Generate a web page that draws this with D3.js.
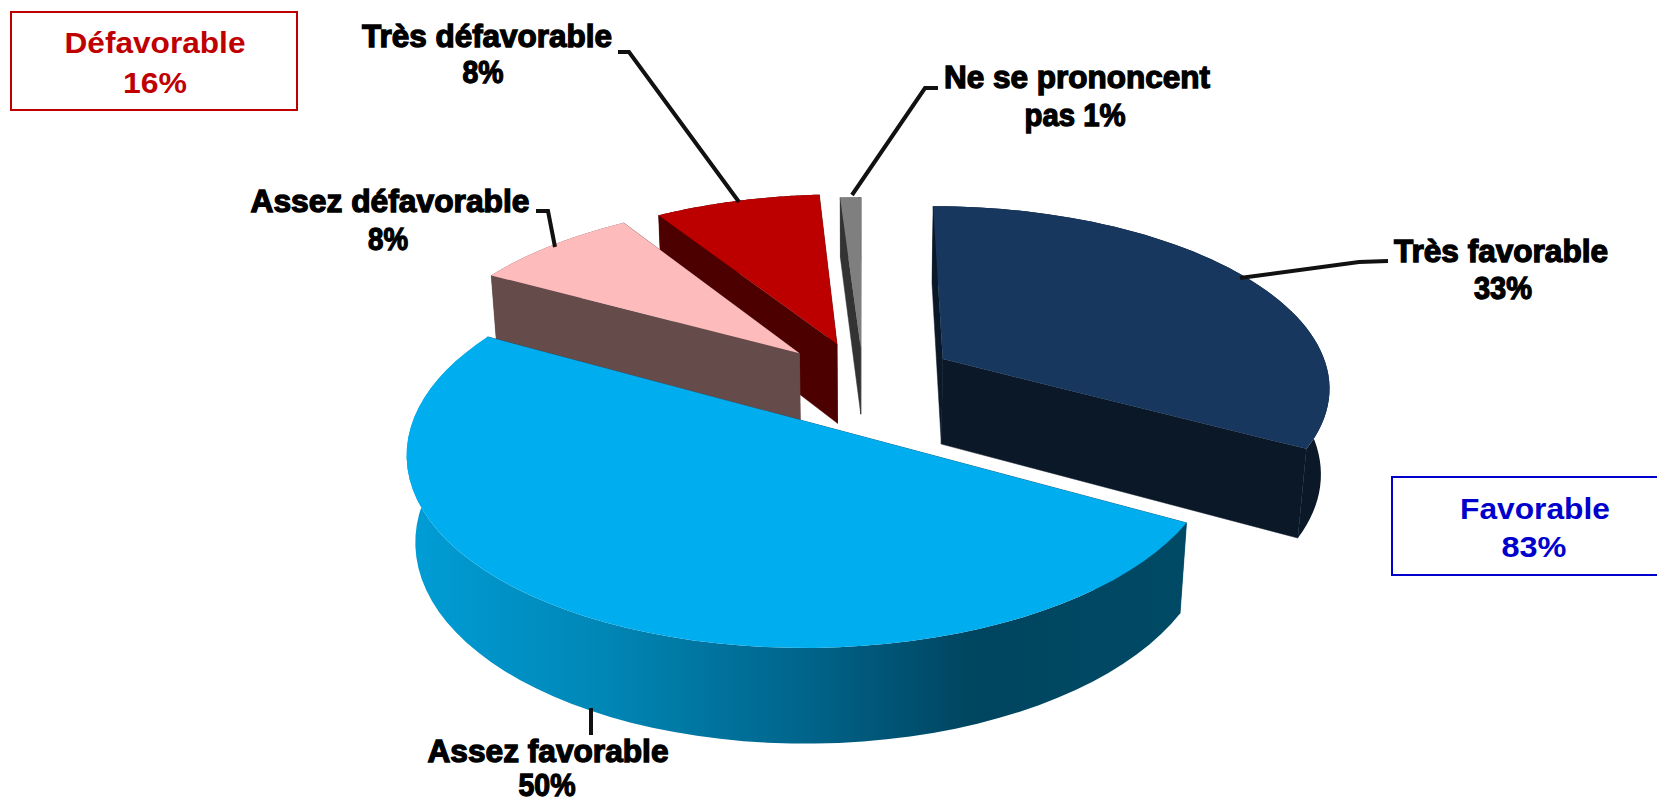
<!DOCTYPE html>
<html><head><meta charset="utf-8">
<script src="https://cdn.jsdelivr.net/npm/d3@7"></script>
<style>html,body{margin:0;padding:0;background:#fff;overflow:hidden}svg{display:block}
text{font-family:"Liberation Sans",Arial,sans-serif;font-weight:700}</style>
</head><body><svg id="c" width="1657" height="803"></svg>
<script>
const categories=["Très favorable","Assez favorable","Assez défavorable","Très défavorable","Ne se prononcent pas"];
const values=[33,50,8,8,1];
const topColors=["#17375E","#00AEEF","#FEBBBB","#BC0000","#7F7F7F"];
const wallColors=["#0A1828","#00AEEF","#664B4B","#4D0000","#333333"];
const explode=[.243,.26,.23,.223,.19];
const heights=[.255,.25,.2,.24,.2];
const drawOrder=[4,3,2,0,1];

// camera
const X0=863,Y0=381,A=388,a=.14,S=.464,C=Math.sqrt(1-S*S),D=C/a,F=A*D;
function proj(x,y,z){const d=D+y*C-z*S;return [X0+F*x/d,Y0-F*(y*S+z*C)/d];}

const arcs=d3.pie().sort(null).value(d=>d).startAngle(0).endAngle(2*Math.PI)(values);
const svg=d3.select("#c");
const line=d3.line();
const defs=svg.append("defs");
const grad=defs.append("linearGradient").attr("id","blueWall").attr("gradientUnits","userSpaceOnUse")
  .attr("x1",410).attr("x2",1190).attr("y1",0).attr("y2",0);
[[0,"#009DD6"],[.25,"#0086B5"],[.5,"#00658C"],[.72,"#004560"],[1,"#004A66"]].forEach(s=>grad.append("stop").attr("offset",s[0]).attr("stop-color",s[1]));

drawOrder.forEach(i=>{
  const s=arcs[i],m=(s.startAngle+s.endAngle)/2,e=explode[i],H=heights[i];
  const ox=e*Math.sin(m),oy=e*Math.cos(m);
  const pt=(r,t,z)=>proj(ox+r*Math.sin(t),oy+r*Math.cos(t),z);
  const ts=d3.range(0,61).map(k=>s.startAngle+(s.endAngle-s.startAngle)*k/60);
  const g=svg.append("g");
  // radial walls, the farther one first
  const walls=[s.startAngle,s.endAngle].sort((p,q)=>Math.cos(q)-Math.cos(p));
  walls.forEach(t=>g.append("path").attr("d",line([pt(0,t,0),pt(1,t,0),pt(1,t,-H),pt(0,t,-H)])+"Z")
    .attr("fill",i===1?"#004560":wallColors[i]).attr("stroke",i===1?"#004560":wallColors[i]).attr("stroke-width",.5));
  // outer wall
  const outer=ts.map(t=>pt(1,t,0)).concat(ts.slice().reverse().map(t=>pt(1,t,-H)));
  g.append("path").attr("d",line(outer)+"Z").attr("fill",i===1?"url(#blueWall)":wallColors[i]);
  // top face
  const top=[pt(0,s.startAngle,0)].concat(ts.map(t=>pt(1,t,0)));
  g.append("path").attr("d",line(top)+"Z").attr("fill",topColors[i]);
});

// leaders
const leaders=[
 [[1388,261],[1359,262],[1240,278]],
 [[591,708],[591,735]],
 [[536,211],[548,211],[555,247]],
 [[618,52],[629,52],[739,202]],
 [[938,88],[925,88],[852,195]]
];
svg.append("g").selectAll("path").data(leaders).join("path")
  .attr("d",d=>line(d)).attr("fill","none").attr("stroke","#111").attr("stroke-width",4);

// data labels
const labels=[
 {t:categories[0],x:1501,y:262,w:214},{t:values[0]+"%",x:1503,y:299,w:58},
 {t:categories[1],x:548,y:762,w:241},{t:values[1]+"%",x:547,y:796,w:57},
 {t:categories[2],x:390,y:212,w:279},{t:values[2]+"%",x:388,y:250,w:40},
 {t:categories[3],x:487,y:47,w:250},{t:values[3]+"%",x:483,y:83,w:41},
 {t:"Ne se prononcent",x:1077,y:88,w:266},{t:"pas "+values[4]+"%",x:1075,y:126,w:101}
];
svg.append("g").selectAll("text").data(labels).join("text")
  .attr("x",d=>d.x).attr("y",d=>d.y).attr("text-anchor","middle")
  .attr("font-size",31).attr("fill","#000").attr("stroke","#000").attr("stroke-width",1.3)
  .attr("textLength",d=>d.w).attr("lengthAdjust","spacingAndGlyphs").text(d=>d.t);

// summary boxes
const boxes=[
 {x:11,y:12,w:286,h:98,c:"#C00000",a:"Défavorable",b:"16%",ax:155,ay:53,by:93,bx:155,aw:181,bw:64},
 {x:1392,y:477,w:270,h:98,c:"#0000CC",a:"Favorable",b:"83%",ax:1535,ay:519,by:557,bx:1534,aw:150,bw:65}
];
const bg=svg.append("g").selectAll("g").data(boxes).join("g");
bg.append("rect").attr("x",d=>d.x).attr("y",d=>d.y).attr("width",d=>d.w).attr("height",d=>d.h)
  .attr("fill","#fff").attr("stroke",d=>d.c).attr("stroke-width",2);
bg.append("text").attr("x",d=>d.ax).attr("y",d=>d.ay).attr("text-anchor","middle").attr("font-size",30).attr("fill",d=>d.c)
  .attr("textLength",d=>d.aw).attr("lengthAdjust","spacingAndGlyphs").text(d=>d.a);
bg.append("text").attr("x",d=>d.bx).attr("y",d=>d.by).attr("text-anchor","middle").attr("font-size",30).attr("fill",d=>d.c)
  .attr("textLength",d=>d.bw).attr("lengthAdjust","spacingAndGlyphs").text(d=>d.b);
</script></body></html>
